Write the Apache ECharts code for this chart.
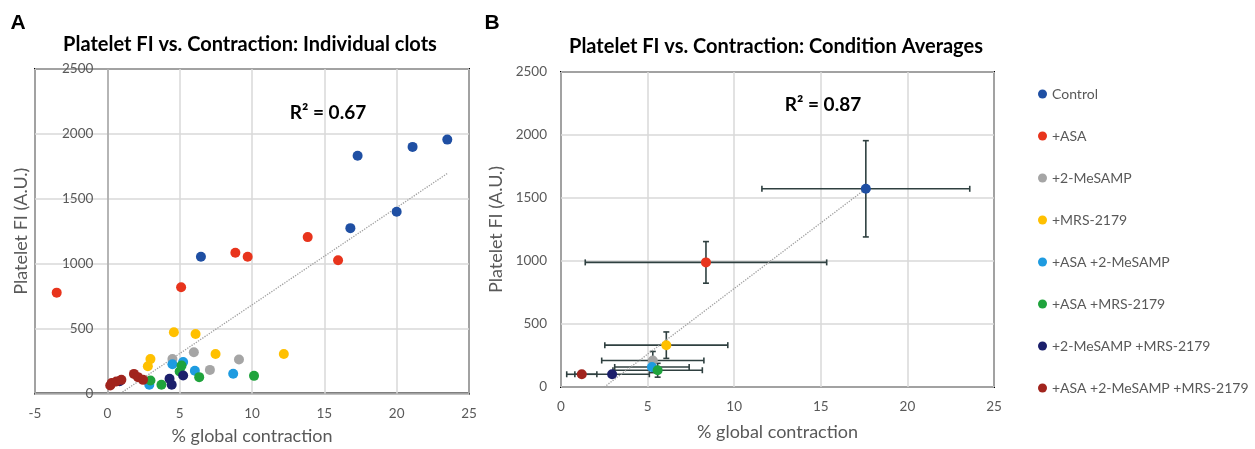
<!DOCTYPE html>
<html>
<head>
<meta charset="utf-8">
<script src="https://cdn.jsdelivr.net/npm/echarts@6/dist/echarts.min.js"></script>
<style>
html,body{margin:0;padding:0;background:#fff;}
#chart{width:1255px;height:449px;}
</style>
</head>
<body>
<div id="chart"></div>
<script>
// ---- data ----
const conditions = ['Control', '+ASA', '+2-MeSAMP', '+MRS-2179', '+ASA +2-MeSAMP', '+ASA +MRS-2179', '+2-MeSAMP +MRS-2179', '+ASA +2-MeSAMP +MRS-2179'];
const colors = ['#1f4fa3', '#e8341c', '#a5a5a5', '#ffc000', '#1e9be0', '#1fa33c', '#1b1f6b', '#a1241d'];

// Panel A: individual clots [% global contraction, Platelet FI]
const clotsControl = [[6.47, 1054], [16.8, 1274], [17.3, 1831], [20.0, 1400], [21.1, 1900], [23.5, 1956]];
const clotsASA = [[-3.5, 777], [5.1, 818], [8.85, 1085], [9.7, 1054], [13.85, 1205], [15.95, 1026]];
const clotsMeSAMP = [[4.5, 265], [5.98, 318], [7.09, 182], [9.1, 262]];
const clotsMRS = [[2.8, 210], [2.98, 265], [4.6, 472], [6.1, 459], [7.48, 305], [12.2, 305]];
const clotsASAMeSAMP = [[2.9, 67], [4.5, 226], [5.24, 242], [6.05, 175], [8.7, 152]];
const clotsASAMRS = [[2.98, 100], [3.74, 67], [5.0, 169], [5.13, 215], [6.35, 126], [10.14, 136]];
const clotsMeSAMPMRS = [[0.85, 95], [4.3, 113], [4.45, 67], [5.24, 138]];
const clotsTriple = [[0.2, 62], [0.3, 80], [0.62, 92], [0.97, 105], [1.84, 151], [2.12, 126], [2.47, 105]];
const clots = [clotsControl, clotsASA, clotsMeSAMP, clotsMRS, clotsASAMeSAMP, clotsASAMRS, clotsMeSAMPMRS, clotsTriple];

// Panel B: condition averages and error (+/-)
const avgX = [17.6, 8.37, 5.3, 6.08, 5.25, 5.58, 2.95, 1.2];
const avgY = [1573, 989, 210, 332, 159, 133, 101, 101];
const errX = [6.0, 6.97, 2.95, 3.55, 2.15, 2.58, 2.15, 0.87];
const errY = [382, 165, 72, 105, 45, 55, 20, 20];

// trend lines (end points)
const trendA = [[0.9, 0], [23.5, 1695]];
const trendB = [[2.5, 0], [17.6, 1573]];

const xTicksA = {min: -5, max: 25, interval: 5};
const xTicksB = {min: 0, max: 25, interval: 5};
const yTicks = {min: 0, max: 2500, interval: 500};

// ---- chart ----
const chart = echarts.init(document.getElementById('chart'));
const font = 'Lato';
const gridLine = {show: true, lineStyle: {color: '#d9d9d9', width: 1.5}};
const axLabel = {color: '#595959', fontSize: 13.5, fontFamily: font, formatter: v => String(v)};
const nameStyle = {color: '#595959', fontSize: 18, fontFamily: font};

const gridA = {left: 35, right: 786, top: 69, bottom: 55.5};
const widthA = 1255 - gridA.left - gridA.right;
const zeroOffsetA = -widthA * (0 - xTicksA.min) / (xTicksA.max - xTicksA.min);

function xAxis(idx, ticks) {
  return {
    type: 'value', gridIndex: idx, min: ticks.min, max: ticks.max, interval: ticks.interval,
    axisLine: {show: false, onZero: false}, axisTick: {show: false}, splitLine: gridLine,
    axisLabel: Object.assign({margin: 13}, axLabel),
    name: '% global contraction', nameLocation: 'middle', nameGap: idx === 0 ? 34 : 36,
    nameTextStyle: nameStyle
  };
}
function yAxis(idx) {
  return {
    type: 'value', gridIndex: idx, min: yTicks.min, max: yTicks.max, interval: yTicks.interval,
    offset: idx === 0 ? zeroOffsetA : 0,
    axisLine: {show: idx === 0, onZero: false, lineStyle: {color: '#a6a6a6', width: 1.5}},
    axisTick: {show: false}, splitLine: gridLine,
    axisLabel: Object.assign({margin: 14}, axLabel),
    name: 'Platelet FI (A.U.)', nameLocation: 'middle', nameGap: idx === 0 ? 77 : 56,
    nameTextStyle: nameStyle
  };
}

function renderErr(params, api) {
  const x = api.value(0), y = api.value(1), ex = api.value(2), ey = api.value(3);
  const l = api.coord([x - ex, y]), r = api.coord([x + ex, y]);
  const t = api.coord([x, y + ey]), b = api.coord([x, y - ey]);
  const cap = 3;
  const st = {stroke: '#2f4040', lineWidth: 1.6};
  const mk = (x1, y1, x2, y2) => ({type: 'line', shape: {x1, y1, x2, y2}, style: st});
  return {type: 'group', children: [
    mk(l[0], l[1], r[0], r[1]),
    mk(l[0], l[1] - cap, l[0], l[1] + cap),
    mk(r[0], r[1] - cap, r[0], r[1] + cap),
    mk(t[0], t[1], b[0], b[1]),
    mk(t[0] - cap, t[1], t[0] + cap, t[1]),
    mk(b[0] - cap, b[1], b[0] + cap, b[1])
  ]};
}

const series = [];
conditions.forEach((name, i) => {
  series.push({
    name, type: 'scatter', xAxisIndex: 0, yAxisIndex: 0, data: clots[i],
    symbolSize: 10, itemStyle: {color: colors[i], opacity: 1}, z: 5
  });
});
series.push({
  name: 'trendA', type: 'line', xAxisIndex: 0, yAxisIndex: 0, data: trendA,
  showSymbol: false, symbol: 'none', lineStyle: {color: '#a0a0a0', width: 1.3, type: 'dotted'}, z: 3, silent: true
});
series.push({
  name: 'errB', type: 'custom', xAxisIndex: 1, yAxisIndex: 1,
  data: conditions.map((c, i) => [avgX[i], avgY[i], errX[i], errY[i]]),
  renderItem: renderErr, z: 2, silent: true
});
series.push({
  name: 'trendB', type: 'line', xAxisIndex: 1, yAxisIndex: 1, data: trendB,
  showSymbol: false, symbol: 'none', lineStyle: {color: '#a0a0a0', width: 1.3, type: 'dotted'}, z: 3, silent: true
});
conditions.forEach((name, i) => {
  series.push({
    name, type: 'scatter', xAxisIndex: 1, yAxisIndex: 1, data: [[avgX[i], avgY[i]]],
    symbolSize: 10, itemStyle: {color: colors[i], opacity: 1}, z: 5
  });
});

const titleFont = 'bold 20px Lato';
chart.setOption({
  animation: false,
  grid: [
    Object.assign({show: true, borderColor: '#000', borderWidth: 2, containLabel: false, outerBoundsMode: 'none'}, gridA),
    {left: 561, right: 261, top: 72, bottom: 62, show: true, borderColor: '#000', borderWidth: 2, containLabel: false, outerBoundsMode: 'none'}
  ],
  xAxis: [xAxis(0, xTicksA), xAxis(1, xTicksB)],
  yAxis: [yAxis(0), yAxis(1)],
  legend: {
    data: conditions, orient: 'vertical', left: 1033, top: 82,
    icon: 'circle', itemWidth: 9, itemHeight: 9, itemGap: 28,
    textStyle: {color: '#595959', fontSize: 14, fontFamily: font, lineHeight: 14}
  },
  graphic: [
    {type: 'text', x: 18, y: 23, style: {text: 'A', font: 'bold 21px "Liberation Sans"', fill: '#000', textAlign: 'center', textVerticalAlign: 'middle'}},
    {type: 'text', x: 492, y: 23, style: {text: 'B', font: 'bold 21px "Liberation Sans"', fill: '#000', textAlign: 'center', textVerticalAlign: 'middle'}},
    {type: 'text', x: 250, y: 45, style: {text: 'Platelet FI vs. Contraction: Individual clots', font: titleFont, fill: '#000', textAlign: 'center', textVerticalAlign: 'middle'}},
    {type: 'text', x: 776, y: 47, style: {text: 'Platelet FI vs. Contraction: Condition Averages', font: titleFont, fill: '#000', textAlign: 'center', textVerticalAlign: 'middle'}},
    {type: 'text', x: 328, y: 113, z: 10, style: {text: 'R² = 0.67', font: 'bold 19px Lato', fill: '#000', textAlign: 'center', textVerticalAlign: 'middle'}},
    {type: 'text', x: 823, y: 105, z: 10, style: {text: 'R² = 0.87', font: 'bold 19px Lato', fill: '#000', textAlign: 'center', textVerticalAlign: 'middle'}}
  ],
  series
});
</script>
</body>
</html>
